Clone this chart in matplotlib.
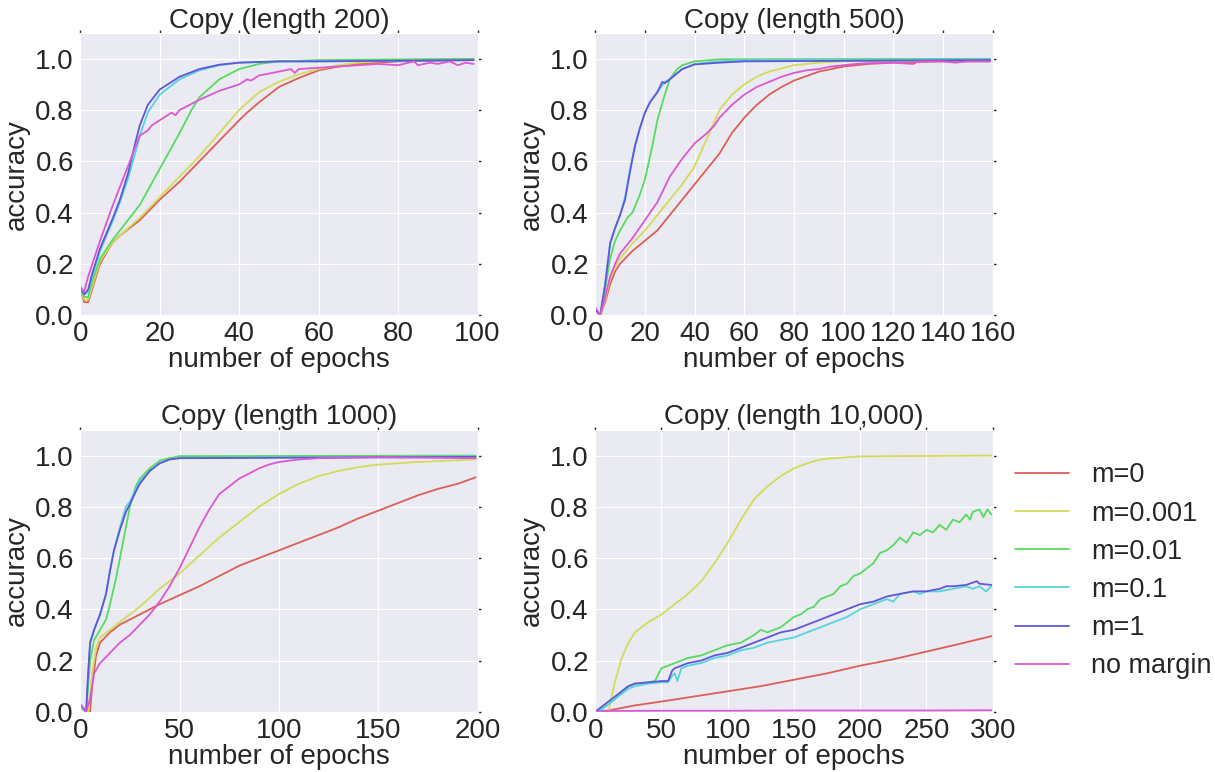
import numpy as np
import seaborn as sns
import matplotlib
matplotlib.use('Agg')
import matplotlib.pyplot as plt

sns.set_style('darkgrid')
plt.rcParams['font.family'] = ['Liberation Sans', 'DejaVu Sans']

labels = ['m=0', 'm=0.001', 'm=0.01', 'm=0.1', 'm=1', 'no margin']
colors = sns.hls_palette(6)

titles = ['Copy (length 200)', 'Copy (length 500)',
          'Copy (length 1000)', 'Copy (length 10,000)']
xlims = [100, 160, 200, 300]
xticks = [[0, 20, 40, 60, 80, 100],
          [0, 20, 40, 60, 80, 100, 120, 140, 160],
          [0, 50, 100, 150, 200],
          [0, 50, 100, 150, 200, 250, 300]]

# (epoch, accuracy) pairs
# ---- length 200 ----
l200_m0 = [(0, .11), (1, .05), (2, .05), (3, .1), (5, .2), (8, .28), (10, .31), (15, .37),
           (20, .45), (25, .52), (30, .6), (35, .68), (40, .76), (42, .79), (45, .83),
           (50, .89), (55, .925), (60, .955), (65, .97), (70, .98), (80, .99), (90, .993), (99, .995)]
l200_m001 = [(0, .11), (1, .06), (2, .06), (3, .11), (5, .21), (8, .28), (10, .31), (15, .38),
             (20, .46), (25, .54), (30, .62), (35, .71), (40, .8), (45, .87), (50, .91),
             (55, .94), (60, .96), (65, .975), (70, .985), (80, .995), (99, 1.0)]
l200_m01 = [(0, .11), (1, .07), (2, .07), (3, .13), (5, .22), (8, .29), (10, .33), (15, .43),
            (20, .57), (25, .71), (28, .8), (30, .85), (35, .92), (40, .96), (45, .98),
            (50, .99), (60, .995), (99, 1.0)]
l200_m1e1 = [(0, .11), (1, .08), (2, .09), (3, .15), (5, .25), (8, .36), (10, .44), (12, .53),
             (14, .64), (15, .7), (17, .79), (20, .86), (25, .92), (30, .955), (35, .975),
             (40, .985), (50, .99), (60, .99), (99, .995)]
l200_m1 = [(0, .11), (1, .08), (2, .1), (3, .16), (5, .26), (8, .37), (10, .45), (12, .55),
           (14, .68), (15, .74), (17, .82), (20, .88), (22, .9), (25, .93), (30, .96),
           (35, .977), (40, .985), (50, .99), (60, .99), (99, .995)]
l200_nom = [(0, .11), (1, .09), (2, .15), (5, .29), (8, .42), (10, .5), (12, .58), (14, .66),
            (15, .7), (17, .72), (18, .74), (20, .76), (23, .79), (24, .78), (25, .8), (30, .84),
            (35, .875), (40, .9), (42, .92), (43, .915), (45, .935), (50, .95), (53, .96),
            (54, .945), (55, .96), (60, .965), (65, .97), (70, .975), (75, .98), (80, .975),
            (84, .99), (85, .975), (88, .985), (90, .98), (93, .99), (95, .975), (97, .985),
            (99, .98)]

# ---- length 500 ----
l500_m0 = [(0, .02), (2, .0), (4, .05), (6, .12), (8, .17), (10, .2), (15, .25), (20, .29),
           (25, .33), (30, .39), (35, .45), (40, .51), (45, .57), (50, .63), (55, .71),
           (60, .77), (65, .82), (70, .86), (75, .89), (80, .915), (90, .95), (100, .97),
           (110, .98), (120, .985), (140, .99), (159, .99)]
l500_m001 = [(0, .02), (2, .0), (4, .06), (6, .14), (8, .19), (10, .22), (15, .28), (20, .33),
             (25, .39), (30, .45), (35, .51), (40, .58), (45, .69), (50, .8), (55, .86),
             (60, .9), (65, .93), (70, .95), (80, .975), (90, .985), (100, .99), (159, .995)]
l500_m01 = [(0, .02), (2, .0), (4, .1), (6, .22), (8, .29), (10, .33), (13, .38), (15, .4),
            (18, .47), (20, .53), (23, .66), (25, .76), (28, .86), (30, .92), (33, .96),
            (35, .975), (40, .99), (50, .998), (159, 1.0)]
l500_m1e1 = [(0, .02), (2, .0), (4, .12), (6, .28), (8, .34), (10, .39), (12, .46), (14, .57),
             (16, .66), (18, .73), (20, .79), (22, .83), (25, .87), (28, .91), (30, .92),
             (35, .96), (40, .98), (50, .99), (60, .995), (159, .998)]
l500_m1 = [(0, .02), (2, .0), (4, .12), (6, .28), (8, .34), (10, .39), (12, .45), (14, .56),
           (16, .66), (18, .73), (20, .79), (22, .83), (25, .87), (27, .91), (28, .905),
           (30, .92), (35, .96), (40, .978), (50, .985), (60, .99), (159, .995)]
l500_nom = [(0, .03), (2, .0), (4, .07), (6, .15), (8, .2), (10, .24), (15, .3), (20, .37),
            (25, .44), (30, .54), (35, .61), (40, .67), (45, .71), (48, .74), (50, .77),
            (55, .82), (60, .86), (65, .89), (70, .91), (75, .93), (80, .945), (85, .955),
            (90, .96), (95, .97), (100, .975), (105, .98), (110, .983), (120, .985),
            (128, .98), (130, .99), (140, .99), (145, .985), (150, .99), (159, .99)]

# ---- length 1000 ----
l1000_m0 = [(0, .02), (3, .0), (5, .0), (6, .1), (8, .22), (10, .27), (15, .31), (20, .34),
            (30, .38), (40, .42), (50, .455), (60, .49), (70, .53), (80, .57), (90, .6),
            (100, .63), (110, .66), (120, .69), (130, .72), (140, .755), (150, .785),
            (160, .815), (170, .845), (180, .87), (190, .89), (199, .915)]
l1000_m001 = [(0, .02), (3, .0), (4, .0), (6, .15), (8, .25), (10, .29), (15, .32), (20, .35),
              (30, .41), (40, .48), (50, .54), (60, .61), (70, .68), (80, .74), (90, .8),
              (100, .85), (110, .89), (120, .92), (130, .94), (140, .955), (150, .965),
              (170, .975), (199, .985)]
l1000_m01 = [(0, .02), (3, .0), (5, .2), (7, .28), (10, .32), (13, .36), (15, .42), (18, .52),
             (20, .6), (23, .72), (25, .8), (28, .88), (30, .91), (35, .95), (40, .98),
             (45, .99), (50, .998), (199, 1.0)]
l1000_m1e1 = [(0, .03), (3, .0), (4, .15), (5, .27), (7, .32), (10, .38), (13, .46), (15, .55),
              (17, .63), (20, .72), (23, .8), (25, .82), (28, .87), (30, .9), (35, .94),
              (40, .97), (45, .985), (50, .99), (199, .997)]
l1000_m1 = [(0, .03), (3, .0), (4, .15), (5, .27), (7, .32), (10, .38), (13, .46), (15, .55),
            (17, .63), (20, .71), (23, .78), (25, .81), (28, .86), (30, .89), (35, .94),
            (40, .97), (45, .985), (50, .99), (199, .995)]
l1000_nom = [(0, .03), (3, .0), (5, .05), (7, .15), (10, .19), (15, .23), (20, .27), (25, .3),
             (30, .34), (35, .38), (40, .43), (45, .49), (50, .56), (55, .64), (60, .72),
             (65, .79), (70, .85), (75, .88), (80, .91), (85, .93), (90, .95), (95, .965),
             (100, .975), (110, .985), (120, .99), (150, .993), (199, .99)]

# ---- length 10,000 ----
l10k_m0 = [(0, .0), (10, .005), (20, .015), (30, .025), (50, .04), (75, .06), (100, .08),
           (125, .1), (150, .125), (175, .15), (200, .18), (225, .205), (250, .235),
           (275, .265), (299, .295)]
l10k_m001 = [(0, .0), (5, .0), (10, .0), (12, .05), (15, .12), (20, .21), (25, .27), (30, .31),
             (35, .33), (40, .35), (50, .38), (60, .42), (70, .46), (80, .51), (90, .58),
             (100, .66), (110, .75), (120, .83), (130, .88), (140, .92), (150, .95),
             (160, .97), (170, .985), (180, .99), (200, .997), (299, 1.0)]
l10k_m01 = [(0, .0), (5, .01), (10, .03), (15, .05), (20, .08), (25, .1), (30, .11), (40, .115),
            (45, .12), (48, .15), (50, .17), (60, .19), (70, .21), (80, .22), (90, .24),
            (100, .26), (110, .27), (120, .3), (125, .32), (130, .31), (140, .33), (145, .35),
            (150, .37), (155, .38), (160, .4), (165, .41), (170, .44), (175, .45), (180, .46),
            (185, .49), (190, .5), (195, .53), (200, .54), (205, .56), (210, .58), (215, .62),
            (220, .63), (225, .65), (230, .68), (235, .66), (240, .7), (245, .69), (250, .71),
            (255, .7), (260, .73), (265, .71), (270, .75), (275, .74), (280, .77), (283, .75),
            (285, .78), (290, .79), (293, .76), (296, .79), (299, .77)]
l10k_m1e1 = [(0, .0), (5, .01), (10, .03), (15, .05), (20, .07), (25, .09), (30, .1), (40, .11),
             (50, .115), (55, .115), (58, .14), (60, .15), (62, .12), (65, .17), (70, .18),
             (80, .19), (90, .21), (100, .22), (110, .24), (120, .25), (130, .27), (140, .28),
             (150, .29), (160, .31), (170, .33), (180, .35), (190, .37), (200, .4), (210, .42),
             (220, .44), (225, .43), (230, .46), (240, .47), (245, .46), (250, .47),
             (260, .47), (270, .48), (280, .49), (285, .48), (290, .49), (295, .47), (299, .49)]
l10k_m1 = [(0, .0), (5, .02), (10, .04), (15, .06), (20, .08), (25, .1), (30, .11), (40, .115),
           (50, .12), (55, .12), (58, .16), (60, .17), (70, .19), (80, .2), (90, .22),
           (100, .23), (110, .25), (120, .27), (130, .29), (140, .31), (150, .32), (160, .34),
           (170, .36), (180, .38), (190, .4), (200, .42), (210, .43), (220, .45), (230, .46),
           (240, .47), (250, .47), (260, .48), (265, .49), (270, .49), (280, .495),
           (288, .51), (290, .5), (299, .495)]
l10k_nom = [(0, .0), (10, .003), (50, .004), (100, .004), (150, .005), (200, .005),
            (250, .005), (299, .006)]

panels = [
    [l200_m0, l200_m001, l200_m01, l200_m1e1, l200_m1, l200_nom],
    [l500_m0, l500_m001, l500_m01, l500_m1e1, l500_m1, l500_nom],
    [l1000_m0, l1000_m001, l1000_m01, l1000_m1e1, l1000_m1, l1000_nom],
    [l10k_m0, l10k_m001, l10k_m01, l10k_m1e1, l10k_m1, l10k_nom],
]

fig, axes = plt.subplots(2, 2, figsize=(12.15, 7.72), dpi=100)
fig.subplots_adjust(left=0.066, right=0.817, top=0.957, bottom=0.078,
                    wspace=0.296, hspace=0.408)

for ax, series, title, xmax, ticks in zip(axes.flat, panels, titles, xlims, xticks):
    for pts, color, label in zip(series, colors, labels):
        ep, acc = np.array(pts).T
        ax.plot(ep, acc, color=color, lw=1.3, label=label)
    ax.set_xlim(0, xmax)
    ax.set_ylim(0, 1.1)
    ax.set_xticks(ticks)
    ax.set_yticks([0.0, 0.2, 0.4, 0.6, 0.8, 1.0])
    ax.set_yticklabels(['0.0', '0.2', '0.4', '0.6', '0.8', '1.0'])
    ax.set_title(title, fontsize=20, pad=4)
    ax.set_xlabel('number of epochs', fontsize=20, labelpad=0)
    ax.set_ylabel('accuracy', fontsize=20, labelpad=4)
    ax.tick_params(labelsize=20, top=True, right=True, length=2.5, width=1,
                   color='#262626', pad=2)

axes[1, 1].legend(loc='center left', bbox_to_anchor=(0.995, 0.5), frameon=False,
                  fontsize=19.5, labelspacing=0.45)

fig.savefig('out.png', dpi=100)
